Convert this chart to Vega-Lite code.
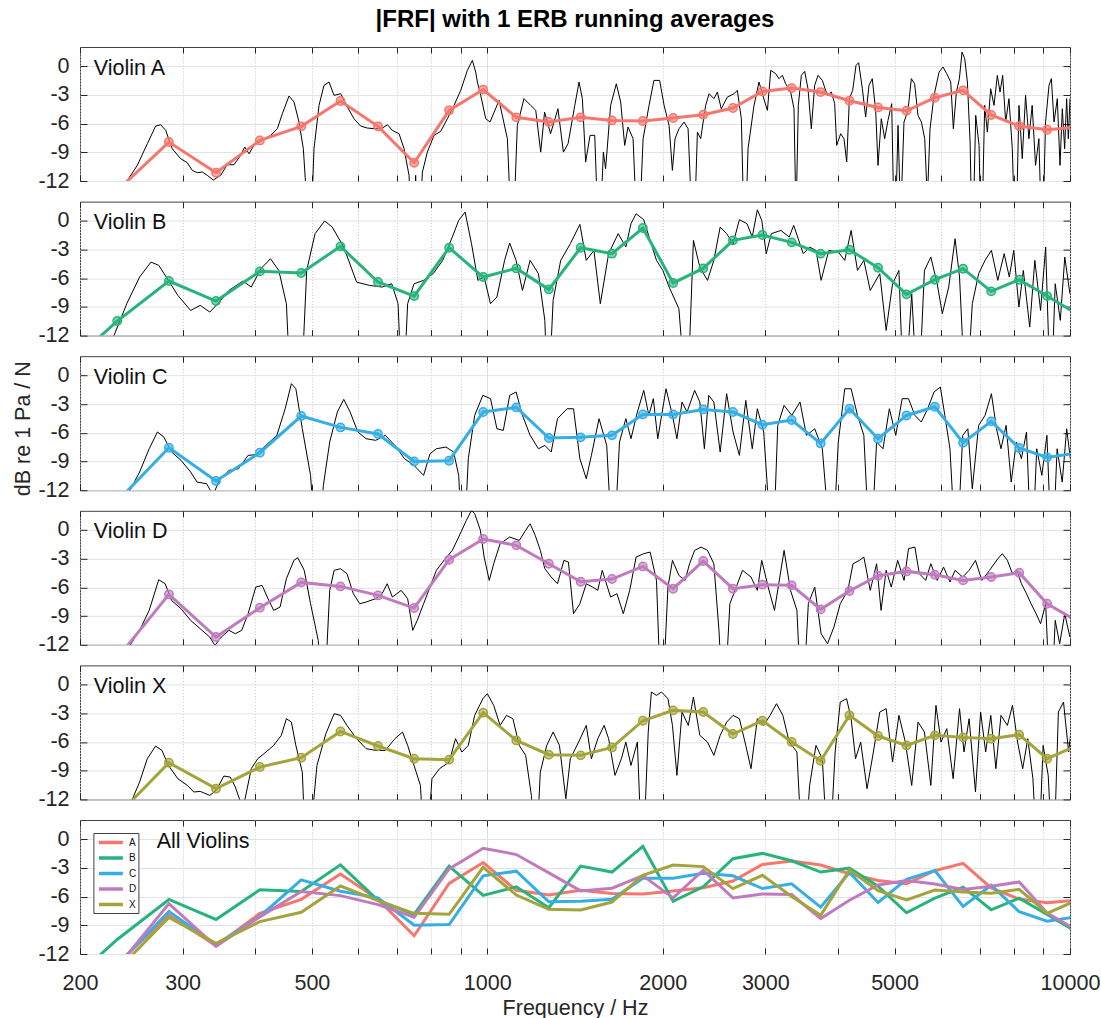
{
  "$schema": "https://vega.github.io/schema/vega-lite/v6.json",
  "background": "white",
  "padding": {"left": 11, "top": 8, "right": 5, "bottom": 5},
  "title": {"text": "|FRF| with 1 ERB running averages", "fontSize": 24, "fontWeight": "bold", "font": "Liberation Sans", "color": "#000000", "anchor": "middle", "frame": "group", "offset": 14},
  "config": {
    "font": "Liberation Sans",
    "view": {"stroke": "#404040", "strokeWidth": 1},
    "axis": {"labelFont": "Liberation Sans", "labelFontSize": 21.5, "labelColor": "#262626", "titleFont": "Liberation Sans", "titleFontSize": 21.5, "titleFontWeight": "normal", "titleColor": "#262626", "domain": false, "tickColor": "#262626", "tickWidth": 1, "labelOverlap": false, "labelFlush": false, "labelBound": false}
  },
  "datasets": {
    "erb": [
      {"v":"A","f":184.7,"d":-15},{"v":"A","f":231.7,"d":-13.0},{"v":"A","f":284.2,"d":-7.93},{"v":"A","f":342.3,"d":-11.13},{"v":"A","f":407.1,"d":-7.76},{"v":"A","f":479.4,"d":-6.29},{"v":"A","f":559.8,"d":-3.64},{"v":"A","f":649.3,"d":-6.29},{"v":"A","f":749.0,"d":-10.09},{"v":"A","f":860.0,"d":-4.62},{"v":"A","f":983.8,"d":-2.45},{"v":"A","f":1121.6,"d":-5.35},{"v":"A","f":1275.3,"d":-5.84},{"v":"A","f":1446.3,"d":-5.35},{"v":"A","f":1636.8,"d":-5.67},{"v":"A","f":1849.1,"d":-5.73},{"v":"A","f":2084.2,"d":-5.42},{"v":"A","f":2347,"d":-5.07},{"v":"A","f":2639.6,"d":-4.37},{"v":"A","f":2965.9,"d":-2.64},{"v":"A","f":3328.8,"d":-2.29},{"v":"A","f":3733,"d":-2.71},{"v":"A","f":4183,"d":-3.61},{"v":"A","f":4684,"d":-4.31},{"v":"A","f":5241.6,"d":-4.66},{"v":"A","f":5862.5,"d":-3.3},{"v":"A","f":6554,"d":-2.53},{"v":"A","f":7324,"d":-5.1},{"v":"A","f":8181.5,"d":-6.26},{"v":"A","f":9136,"d":-6.64},{"v":"A","f":10205,"d":-6.38},
      {"v":"B","f":184.7,"d":-15.9},{"v":"B","f":231.7,"d":-10.48},{"v":"B","f":284.2,"d":-6.3},{"v":"B","f":342.3,"d":-8.39},{"v":"B","f":407.1,"d":-5.29},{"v":"B","f":479.4,"d":-5.46},{"v":"B","f":559.8,"d":-2.68},{"v":"B","f":649.3,"d":-6.4},{"v":"B","f":749.0,"d":-7.87},{"v":"B","f":860.0,"d":-2.82},{"v":"B","f":983.8,"d":-5.88},{"v":"B","f":1121.6,"d":-4.98},{"v":"B","f":1275.3,"d":-7.17},{"v":"B","f":1446.3,"d":-2.82},{"v":"B","f":1636.8,"d":-3.44},{"v":"B","f":1849.1,"d":-0.76},{"v":"B","f":2084.2,"d":-6.5},{"v":"B","f":2347,"d":-4.98},{"v":"B","f":2639.6,"d":-2.05},{"v":"B","f":2965.9,"d":-1.49},{"v":"B","f":3328.8,"d":-2.26},{"v":"B","f":3733,"d":-3.44},{"v":"B","f":4183,"d":-3.03},{"v":"B","f":4684,"d":-4.91},{"v":"B","f":5241.6,"d":-7.69},{"v":"B","f":5862.5,"d":-6.16},{"v":"B","f":6554,"d":-5.01},{"v":"B","f":7324,"d":-7.38},{"v":"B","f":8181.5,"d":-6.16},{"v":"B","f":9136,"d":-7.87},{"v":"B","f":10205,"d":-9.61},
      {"v":"C","f":184.7,"d":-15},{"v":"C","f":231.7,"d":-13.17},{"v":"C","f":284.2,"d":-7.56},{"v":"C","f":342.3,"d":-11.04},{"v":"C","f":407.1,"d":-8.08},{"v":"C","f":479.4,"d":-4.25},{"v":"C","f":559.8,"d":-5.44},{"v":"C","f":649.3,"d":-6.13},{"v":"C","f":749.0,"d":-8.99},{"v":"C","f":860.0,"d":-8.92},{"v":"C","f":983.8,"d":-3.83},{"v":"C","f":1121.6,"d":-3.35},{"v":"C","f":1275.3,"d":-6.55},{"v":"C","f":1446.3,"d":-6.48},{"v":"C","f":1636.8,"d":-6.27},{"v":"C","f":1849.1,"d":-4.08},{"v":"C","f":2084.2,"d":-4.08},{"v":"C","f":2347,"d":-3.56},{"v":"C","f":2639.6,"d":-3.83},{"v":"C","f":2965.9,"d":-5.16},{"v":"C","f":3328.8,"d":-4.67},{"v":"C","f":3733,"d":-7.11},{"v":"C","f":4183,"d":-3.49},{"v":"C","f":4684,"d":-6.62},{"v":"C","f":5241.6,"d":-4.19},{"v":"C","f":5862.5,"d":-3.28},{"v":"C","f":6554,"d":-7.04},{"v":"C","f":7324,"d":-4.81},{"v":"C","f":8181.5,"d":-7.59},{"v":"C","f":9136,"d":-8.57},{"v":"C","f":10205,"d":-8.14},
      {"v":"D","f":184.7,"d":-15},{"v":"D","f":231.7,"d":-13.39},{"v":"D","f":284.2,"d":-6.73},{"v":"D","f":342.3,"d":-11.19},{"v":"D","f":407.1,"d":-8.12},{"v":"D","f":479.4,"d":-5.48},{"v":"D","f":559.8,"d":-5.9},{"v":"D","f":649.3,"d":-6.84},{"v":"D","f":749.0,"d":-8.16},{"v":"D","f":860.0,"d":-3.11},{"v":"D","f":983.8,"d":-0.95},{"v":"D","f":1121.6,"d":-1.61},{"v":"D","f":1275.3,"d":-3.53},{"v":"D","f":1446.3,"d":-5.41},{"v":"D","f":1636.8,"d":-5.13},{"v":"D","f":1849.1,"d":-3.81},{"v":"D","f":2084.2,"d":-6.14},{"v":"D","f":2347,"d":-3.25},{"v":"D","f":2639.6,"d":-6.14},{"v":"D","f":2965.9,"d":-5.72},{"v":"D","f":3328.8,"d":-5.79},{"v":"D","f":3733,"d":-8.3},{"v":"D","f":4183,"d":-6.38},{"v":"D","f":4684,"d":-4.78},{"v":"D","f":5241.6,"d":-4.33},{"v":"D","f":5862.5,"d":-4.68},{"v":"D","f":6554,"d":-5.27},{"v":"D","f":7324,"d":-4.92},{"v":"D","f":8181.5,"d":-4.47},{"v":"D","f":9136,"d":-7.71},{"v":"D","f":10205,"d":-9.41},
      {"v":"X","f":184.7,"d":-15},{"v":"X","f":231.7,"d":-13.7},{"v":"X","f":284.2,"d":-8.17},{"v":"X","f":342.3,"d":-10.88},{"v":"X","f":407.1,"d":-8.62},{"v":"X","f":479.4,"d":-7.64},{"v":"X","f":559.8,"d":-4.9},{"v":"X","f":649.3,"d":-6.42},{"v":"X","f":749.0,"d":-7.75},{"v":"X","f":860.0,"d":-7.85},{"v":"X","f":983.8,"d":-2.94},{"v":"X","f":1121.6,"d":-5.84},{"v":"X","f":1275.3,"d":-7.33},{"v":"X","f":1446.3,"d":-7.4},{"v":"X","f":1636.8,"d":-6.57},{"v":"X","f":1849.1,"d":-3.78},{"v":"X","f":2084.2,"d":-2.7},{"v":"X","f":2347,"d":-2.87},{"v":"X","f":2639.6,"d":-5.17},{"v":"X","f":2965.9,"d":-3.78},{"v":"X","f":3328.8,"d":-6.0},{"v":"X","f":3733,"d":-7.96},{"v":"X","f":4183,"d":-3.22},{"v":"X","f":4684,"d":-5.38},{"v":"X","f":5241.6,"d":-6.36},{"v":"X","f":5862.5,"d":-5.31},{"v":"X","f":6554,"d":-5.52},{"v":"X","f":7324,"d":-5.66},{"v":"X","f":8181.5,"d":-5.24},{"v":"X","f":9136,"d":-7.75},{"v":"X","f":10205,"d":-6.46}
    ],
    "frf": [
      {"v":"A","f":228.8,"d":-14},{"v":"A","f":241.2,"d":-11.94},{"v":"A","f":250.8,"d":-10.37},{"v":"A","f":261.0,"d":-8.1},{"v":"A","f":269.7,"d":-6.26},{"v":"A","f":275.1,"d":-6.12},{"v":"A","f":280.6,"d":-6.71},{"v":"A","f":288.0,"d":-8.63},{"v":"A","f":297.7,"d":-9.67},{"v":"A","f":305.6,"d":-10.09},{"v":"A","f":311.7,"d":-10.89},{"v":"A","f":317.9,"d":-11.13},{"v":"A","f":324.3,"d":-11.06},{"v":"A","f":330.7,"d":-11.41},{"v":"A","f":338.7,"d":-11.9},{"v":"A","f":348.6,"d":-11.41},{"v":"A","f":357.9,"d":-10.3},{"v":"A","f":367.5,"d":-10.3},{"v":"A","f":377.3,"d":-9.32},{"v":"A","f":383.4,"d":-8.45},{"v":"A","f":390.0,"d":-9.15},{"v":"A","f":397.8,"d":-8.28},{"v":"A","f":411.1,"d":-7.76},{"v":"A","f":424.9,"d":-7.23},{"v":"A","f":436.2,"d":-6.54},{"v":"A","f":444.9,"d":-4.97},{"v":"A","f":456.8,"d":-3.12},{"v":"A","f":465.9,"d":-3.75},{"v":"A","f":475.2,"d":-5.84},{"v":"A","f":483.4,"d":-8.63},{"v":"A","f":489.8,"d":-14},{"v":"A","f":496.3,"d":-20},{"v":"A","f":504.2,"d":-8.63},{"v":"A","f":514.3,"d":-4.1},{"v":"A","f":524.5,"d":-2.01},{"v":"A","f":535.0,"d":-1.66},{"v":"A","f":545.7,"d":-3.05},{"v":"A","f":560.2,"d":-2.88},{"v":"A","f":575.2,"d":-4.27},{"v":"A","f":590.5,"d":-5.49},{"v":"A","f":606.3,"d":-6.26},{"v":"A","f":622.5,"d":-6.47},{"v":"A","f":643.4,"d":-6.54},{"v":"A","f":660.7,"d":-6.47},{"v":"A","f":673.8,"d":-6.12},{"v":"A","f":687.2,"d":-6.71},{"v":"A","f":705.6,"d":-7.06},{"v":"A","f":719.7,"d":-8.63},{"v":"A","f":734.0,"d":-11.41},{"v":"A","f":743.7,"d":-20},{"v":"A","f":753.5,"d":-11.41},{"v":"A","f":760.4,"d":-20},{"v":"A","f":773.8,"d":-11.07},{"v":"A","f":789.1,"d":-8.98},{"v":"A","f":810.2,"d":-7.23},{"v":"A","f":831.8,"d":-6.82},{"v":"A","f":854.0,"d":-5.49},{"v":"A","f":876.9,"d":-4.1},{"v":"A","f":900.3,"d":-2.53},{"v":"A","f":924.3,"d":-0.44},{"v":"A","f":942.7,"d":0.6},{"v":"A","f":955.2,"d":-0.62},{"v":"A","f":961.6,"d":-1.66},{"v":"A","f":974.3,"d":-3.05},{"v":"A","f":993.8,"d":-5.49},{"v":"A","f":1010.9,"d":-5.84},{"v":"A","f":1047.5,"d":-3.58},{"v":"A","f":1082.6,"d":-7.58},{"v":"A","f":1104.2,"d":-20},{"v":"A","f":1126,"d":-6.19},{"v":"A","f":1156,"d":-3.4},{"v":"A","f":1187,"d":-4.1},{"v":"A","f":1211,"d":-4.62},{"v":"A","f":1235,"d":-8.98},{"v":"A","f":1254,"d":-4.8},{"v":"A","f":1284,"d":-7.06},{"v":"A","f":1322,"d":-4.45},{"v":"A","f":1351,"d":-8.98},{"v":"A","f":1376,"d":-8.1},{"v":"A","f":1413,"d":-4.1},{"v":"A","f":1437,"d":-1.66},{"v":"A","f":1456,"d":-3.4},{"v":"A","f":1475,"d":-10.02},{"v":"A","f":1501,"d":-7.23},{"v":"A","f":1529,"d":-7.23},{"v":"A","f":1555,"d":-20},{"v":"A","f":1582,"d":-8.98},{"v":"A","f":1596,"d":-10.72},{"v":"A","f":1628,"d":-4.1},{"v":"A","f":1665,"d":-1.84},{"v":"A","f":1694,"d":-3.75},{"v":"A","f":1721,"d":-8.28},{"v":"A","f":1744,"d":-6.36},{"v":"A","f":1779,"d":-7.58},{"v":"A","f":1814,"d":-20},{"v":"A","f":1851,"d":-7.58},{"v":"A","f":1895,"d":-4.1},{"v":"A","f":1932,"d":-1.49},{"v":"A","f":1976,"d":-1.49},{"v":"A","f":2011,"d":-4.1},{"v":"A","f":2051,"d":-6.19},{"v":"A","f":2078,"d":-10.89},{"v":"A","f":2100,"d":-7.58},{"v":"A","f":2133,"d":-6.54},{"v":"A","f":2176,"d":-5.84},{"v":"A","f":2211,"d":-6.54},{"v":"A","f":2258,"d":-20},{"v":"A","f":2294,"d":-6.89},{"v":"A","f":2324,"d":-7.58},{"v":"A","f":2370,"d":-4.1},{"v":"A","f":2402,"d":-2.88},{"v":"A","f":2449,"d":-3.4},{"v":"A","f":2482,"d":-2.71},{"v":"A","f":2521,"d":-4.45},{"v":"A","f":2582,"d":-3.23},{"v":"A","f":2651,"d":-2.88},{"v":"A","f":2686,"d":-2.53},{"v":"A","f":2729,"d":-5.49},{"v":"A","f":2765,"d":-20},{"v":"A","f":2802,"d":-8.63},{"v":"A","f":2869,"d":-4.1},{"v":"A","f":2926,"d":-1.66},{"v":"A","f":2994,"d":-3.75},{"v":"A","f":3025,"d":-4.62},{"v":"A","f":3065,"d":-0.44},{"v":"A","f":3126,"d":-0.79},{"v":"A","f":3167,"d":-1.31},{"v":"A","f":3209,"d":-0.96},{"v":"A","f":3251,"d":-1.84},{"v":"A","f":3316,"d":-2.71},{"v":"A","f":3360,"d":-4.45},{"v":"A","f":3387,"d":-16},{"v":"A","f":3418,"d":-4.1},{"v":"A","f":3459,"d":-0.96},{"v":"A","f":3505,"d":-0.55},{"v":"A","f":3551,"d":-2.36},{"v":"A","f":3598,"d":-6.54},{"v":"A","f":3646,"d":-2.01},{"v":"A","f":3695,"d":-0.96},{"v":"A","f":3758,"d":-1.49},{"v":"A","f":3833,"d":-3.05},{"v":"A","f":3895,"d":-2.71},{"v":"A","f":3946,"d":-3.92},{"v":"A","f":3977,"d":-8.28},{"v":"A","f":4041,"d":-7.06},{"v":"A","f":4094,"d":-7.58},{"v":"A","f":4138,"d":-10.02},{"v":"A","f":4182,"d":-3.4},{"v":"A","f":4237,"d":-2.53},{"v":"A","f":4293,"d":0.08},{"v":"A","f":4338,"d":0.36},{"v":"A","f":4402,"d":-2.36},{"v":"A","f":4460,"d":-5.32},{"v":"A","f":4519,"d":-2.01},{"v":"A","f":4578,"d":-1.31},{"v":"A","f":4640,"d":-4.62},{"v":"A","f":4683,"d":-10.37},{"v":"A","f":4744,"d":-5.49},{"v":"A","f":4808,"d":-7.58},{"v":"A","f":4871,"d":-5.67},{"v":"A","f":4943,"d":-3.92},{"v":"A","f":5002,"d":-20},{"v":"A","f":5068,"d":-6.19},{"v":"A","f":5121,"d":-16},{"v":"A","f":5189,"d":-5.84},{"v":"A","f":5272,"d":-4.62},{"v":"A","f":5342,"d":-1.31},{"v":"A","f":5412,"d":-1.84},{"v":"A","f":5484,"d":-5.14},{"v":"A","f":5559,"d":-5.84},{"v":"A","f":5632,"d":-7.58},{"v":"A","f":5691,"d":-14},{"v":"A","f":5752,"d":-6.54},{"v":"A","f":5844,"d":-3.05},{"v":"A","f":5961,"d":-0.62},{"v":"A","f":6055,"d":-0.09},{"v":"A","f":6144,"d":-0.79},{"v":"A","f":6242,"d":-1.66},{"v":"A","f":6307,"d":-6.54},{"v":"A","f":6383,"d":-2.71},{"v":"A","f":6459,"d":-1.31},{"v":"A","f":6527,"d":1.47},{"v":"A","f":6597,"d":0.78},{"v":"A","f":6667,"d":-1.66},{"v":"A","f":6738,"d":-7.93},{"v":"A","f":6800,"d":-20},{"v":"A","f":6890,"d":-5.14},{"v":"A","f":6981,"d":-8.28},{"v":"A","f":7045,"d":-20},{"v":"A","f":7138,"d":-4.1},{"v":"A","f":7214,"d":-6.89},{"v":"A","f":7309,"d":-2.36},{"v":"A","f":7406,"d":-4.1},{"v":"A","f":7504,"d":-0.96},{"v":"A","f":7584,"d":-2.71},{"v":"A","f":7664,"d":-0.96},{"v":"A","f":7755,"d":-5.84},{"v":"A","f":7857,"d":-3.4},{"v":"A","f":7961,"d":-8.63},{"v":"A","f":8066,"d":-20},{"v":"A","f":8174,"d":-4.1},{"v":"A","f":8281,"d":-9.67},{"v":"A","f":8390,"d":-3.05},{"v":"A","f":8501,"d":-7.58},{"v":"A","f":8612,"d":-4.1},{"v":"A","f":8727,"d":-10.37},{"v":"A","f":8843,"d":-7.58},{"v":"A","f":8960,"d":-20},{"v":"A","f":9079,"d":-5.84},{"v":"A","f":9204,"d":-2.01},{"v":"A","f":9290,"d":-1.31},{"v":"A","f":9389,"d":-5.84},{"v":"A","f":9511,"d":-3.4},{"v":"A","f":9612,"d":-10.37},{"v":"A","f":9701,"d":-4.45},{"v":"A","f":9791,"d":-8.63},{"v":"A","f":9868,"d":-3.4},{"v":"A","f":9935,"d":-7.58},{"v":"A","f":10000,"d":-3.4},
      {"v":"B","f":217.5,"d":-14.6},{"v":"B","f":228.8,"d":-11.98},{"v":"B","f":240.6,"d":-8.67},{"v":"B","f":253.1,"d":-5.88},{"v":"B","f":264.8,"d":-4.32},{"v":"B","f":273.0,"d":-4.66},{"v":"B","f":283.6,"d":-6.23},{"v":"B","f":294.4,"d":-7.8},{"v":"B","f":309.7,"d":-9.37},{"v":"B","f":321.6,"d":-8.84},{"v":"B","f":334.0,"d":-9.54},{"v":"B","f":346.9,"d":-8.5},{"v":"B","f":360.3,"d":-7.28},{"v":"B","f":380.8,"d":-6.3},{"v":"B","f":393.5,"d":-6.93},{"v":"B","f":408.8,"d":-5.01},{"v":"B","f":424.5,"d":-3.97},{"v":"B","f":438.7,"d":-5.19},{"v":"B","f":452.1,"d":-8.67},{"v":"B","f":461.1,"d":-20},{"v":"B","f":477.6,"d":-20},{"v":"B","f":489.9,"d":-5.19},{"v":"B","f":506.3,"d":-1.35},{"v":"B","f":525.8,"d":-0.03},{"v":"B","f":541.9,"d":-0.66},{"v":"B","f":567.1,"d":-2.75},{"v":"B","f":596.6,"d":-6.41},{"v":"B","f":627.4,"d":-6.75},{"v":"B","f":659.9,"d":-6.93},{"v":"B","f":685.4,"d":-6.58},{"v":"B","f":702.9,"d":-8.67},{"v":"B","f":715.4,"d":-20},{"v":"B","f":730.0,"d":-8.67},{"v":"B","f":748.6,"d":-6.58},{"v":"B","f":777.5,"d":-6.23},{"v":"B","f":807.5,"d":-5.53},{"v":"B","f":838.6,"d":-4.14},{"v":"B","f":871.0,"d":-1.7},{"v":"B","f":893.2,"d":0.04},{"v":"B","f":916.0,"d":0.91},{"v":"B","f":939.5,"d":-2.4},{"v":"B","f":963.5,"d":-6.23},{"v":"B","f":987.6,"d":-5.88},{"v":"B","f":1012.8,"d":-8.67},{"v":"B","f":1038.8,"d":-7.97},{"v":"B","f":1070.7,"d":-4.14},{"v":"B","f":1092.5,"d":-2.33},{"v":"B","f":1120.4,"d":-4.14},{"v":"B","f":1149.1,"d":-7.28},{"v":"B","f":1184.4,"d":-4.14},{"v":"B","f":1223.9,"d":-5.53},{"v":"B","f":1255.3,"d":-10.41},{"v":"B","f":1271.2,"d":-20},{"v":"B","f":1297.1,"d":-8.32},{"v":"B","f":1336.6,"d":-4.14},{"v":"B","f":1388.3,"d":-2.4},{"v":"B","f":1441.8,"d":-0.38},{"v":"B","f":1478.6,"d":-4.14},{"v":"B","f":1524.0,"d":-3.1},{"v":"B","f":1563.0,"d":-8.67},{"v":"B","f":1615.2,"d":-3.44},{"v":"B","f":1677.4,"d":-1.35},{"v":"B","f":1729.0,"d":-2.75},{"v":"B","f":1764.3,"d":-0.31},{"v":"B","f":1800.5,"d":0.73},{"v":"B","f":1855.6,"d":0.11},{"v":"B","f":1903,"d":-2.05},{"v":"B","f":1951.5,"d":-4.14},{"v":"B","f":2001,"d":-5.19},{"v":"B","f":2052,"d":-6.93},{"v":"B","f":2132,"d":-9.19},{"v":"B","f":2202,"d":-20},{"v":"B","f":2258,"d":-2.05},{"v":"B","f":2316,"d":-4.84},{"v":"B","f":2387,"d":-6.23},{"v":"B","f":2448,"d":-4.14},{"v":"B","f":2510,"d":-0.66},{"v":"B","f":2575,"d":-1.35},{"v":"B","f":2641,"d":-2.4},{"v":"B","f":2708,"d":0.11},{"v":"B","f":2791,"d":-0.31},{"v":"B","f":2849,"d":-1.7},{"v":"B","f":2907,"d":1.15},{"v":"B","f":2958,"d":0.04},{"v":"B","f":3011,"d":-3.44},{"v":"B","f":3072,"d":-1.35},{"v":"B","f":3191,"d":-1.01},{"v":"B","f":3297,"d":-1.7},{"v":"B","f":3356,"d":-0.48},{"v":"B","f":3485,"d":-3.44},{"v":"B","f":3574,"d":-2.75},{"v":"B","f":3665,"d":-3.1},{"v":"B","f":3740,"d":-6.23},{"v":"B","f":3855,"d":-3.1},{"v":"B","f":4003,"d":-3.27},{"v":"B","f":4106,"d":-4.14},{"v":"B","f":4211,"d":-1.01},{"v":"B","f":4318,"d":-5.19},{"v":"B","f":4428,"d":-4.14},{"v":"B","f":4541,"d":-7.28},{"v":"B","f":4716,"d":-5.53},{"v":"B","f":4836,"d":-11.46},{"v":"B","f":4960,"d":-6.58},{"v":"B","f":5086,"d":-5.19},{"v":"B","f":5191,"d":-20},{"v":"B","f":5350,"d":-7.62},{"v":"B","f":5486,"d":-20},{"v":"B","f":5626,"d":-5.19},{"v":"B","f":5770,"d":-3.79},{"v":"B","f":5917,"d":-6.58},{"v":"B","f":6038,"d":-9.71},{"v":"B","f":6192,"d":-6.93},{"v":"B","f":6350,"d":-1.88},{"v":"B","f":6463,"d":-5.88},{"v":"B","f":6628,"d":-20},{"v":"B","f":6797,"d":-8.67},{"v":"B","f":6970,"d":-5.53},{"v":"B","f":7149,"d":-4.14},{"v":"B","f":7331,"d":-3.1},{"v":"B","f":7518,"d":-6.23},{"v":"B","f":7710,"d":-3.44},{"v":"B","f":7867,"d":-5.88},{"v":"B","f":8007,"d":-3.1},{"v":"B","f":8171,"d":-9.02},{"v":"B","f":8316,"d":-5.19},{"v":"B","f":8529,"d":-11.11},{"v":"B","f":8702,"d":-4.14},{"v":"B","f":8902,"d":-9.37},{"v":"B","f":9083,"d":-2.75},{"v":"B","f":9268,"d":-20},{"v":"B","f":9432,"d":-6.58},{"v":"B","f":9624,"d":-10.41},{"v":"B","f":9796,"d":-3.79},{"v":"B","f":9996,"d":-7.62},
      {"v":"C","f":234.6,"d":-13.9},{"v":"C","f":253.1,"d":-10.1},{"v":"C","f":262.9,"d":-7.67},{"v":"C","f":271.6,"d":-5.92},{"v":"C","f":278.6,"d":-6.45},{"v":"C","f":287.1,"d":-8.01},{"v":"C","f":298.1,"d":-8.88},{"v":"C","f":309.7,"d":-10.1},{"v":"C","f":317.6,"d":-11.15},{"v":"C","f":329.8,"d":-11.32},{"v":"C","f":338.3,"d":-12.5},{"v":"C","f":346.9,"d":-10.97},{"v":"C","f":360.3,"d":-9.93},{"v":"C","f":374.2,"d":-9.76},{"v":"C","f":388.6,"d":-8.36},{"v":"C","f":400.6,"d":-8.29},{"v":"C","f":413.9,"d":-7.49},{"v":"C","f":435.4,"d":-6.27},{"v":"C","f":449.9,"d":-3.49},{"v":"C","f":461.1,"d":-0.87},{"v":"C","f":469.3,"d":-1.4},{"v":"C","f":481.4,"d":-5.58},{"v":"C","f":497.4,"d":-10.45},{"v":"C","f":510.1,"d":-20},{"v":"C","f":523.2,"d":-11.5},{"v":"C","f":536.5,"d":-6.97},{"v":"C","f":552.9,"d":-3.83},{"v":"C","f":567.1,"d":-2.51},{"v":"C","f":581.6,"d":-3.83},{"v":"C","f":599.6,"d":-5.92},{"v":"C","f":619.5,"d":-6.62},{"v":"C","f":643.4,"d":-6.79},{"v":"C","f":668.3,"d":-6.27},{"v":"C","f":694.1,"d":-7.32},{"v":"C","f":720.8,"d":-8.71},{"v":"C","f":748.6,"d":-9.41},{"v":"C","f":777.5,"d":-10.45},{"v":"C","f":797.4,"d":-8.19},{"v":"C","f":817.8,"d":-7.67},{"v":"C","f":849.3,"d":-7.49},{"v":"C","f":875.4,"d":-8.01},{"v":"C","f":893.2,"d":-10.45},{"v":"C","f":909.2,"d":-20},{"v":"C","f":927.7,"d":-8.71},{"v":"C","f":951.4,"d":-4.18},{"v":"C","f":982.7,"d":-2.09},{"v":"C","f":1012.8,"d":-2.44},{"v":"C","f":1038.8,"d":-5.58},{"v":"C","f":1065.3,"d":-5.75},{"v":"C","f":1092.5,"d":-2.09},{"v":"C","f":1120.4,"d":-1.74},{"v":"C","f":1149.1,"d":-4.18},{"v":"C","f":1184.4,"d":-6.27},{"v":"C","f":1223.9,"d":-7.67},{"v":"C","f":1255.3,"d":-7.32},{"v":"C","f":1287.3,"d":-8.01},{"v":"C","f":1319.8,"d":-4.53},{"v":"C","f":1370.7,"d":-3.49},{"v":"C","f":1405.9,"d":-3.49},{"v":"C","f":1441.8,"d":-8.71},{"v":"C","f":1478.6,"d":-10.8},{"v":"C","f":1508.8,"d":-8.36},{"v":"C","f":1555.2,"d":-4.53},{"v":"C","f":1603,"d":-7.32},{"v":"C","f":1643.9,"d":-20},{"v":"C","f":1686,"d":-6.97},{"v":"C","f":1729,"d":-4.53},{"v":"C","f":1764.3,"d":-6.62},{"v":"C","f":1809.5,"d":-3.83},{"v":"C","f":1855.6,"d":-1.57},{"v":"C","f":1893.5,"d":-4.18},{"v":"C","f":1927.2,"d":-2.44},{"v":"C","f":1961.4,"d":-6.62},{"v":"C","f":2026.4,"d":-1.4},{"v":"C","f":2078.6,"d":-4.18},{"v":"C","f":2115.5,"d":-6.62},{"v":"C","f":2158.7,"d":-2.79},{"v":"C","f":2202,"d":-3.83},{"v":"C","f":2269,"d":-1.57},{"v":"C","f":2316,"d":-2.79},{"v":"C","f":2358,"d":-7.67},{"v":"C","f":2399,"d":-2.09},{"v":"C","f":2448,"d":-2.79},{"v":"C","f":2510,"d":-8.01},{"v":"C","f":2575,"d":-1.92},{"v":"C","f":2641,"d":-5.92},{"v":"C","f":2708,"d":-8.36},{"v":"C","f":2777,"d":-2.62},{"v":"C","f":2849,"d":-7.67},{"v":"C","f":2907,"d":-3.49},{"v":"C","f":2981,"d":-5.92},{"v":"C","f":3088,"d":-20},{"v":"C","f":3151,"d":-5.23},{"v":"C","f":3231,"d":-3.14},{"v":"C","f":3331,"d":-4.18},{"v":"C","f":3441,"d":-2.79},{"v":"C","f":3529,"d":-6.27},{"v":"C","f":3647,"d":-5.58},{"v":"C","f":3758,"d":-7.67},{"v":"C","f":3904,"d":-20},{"v":"C","f":4003,"d":-6.97},{"v":"C","f":4106,"d":-1.4},{"v":"C","f":4211,"d":-1.4},{"v":"C","f":4318,"d":-4.18},{"v":"C","f":4428,"d":-6.27},{"v":"C","f":4541,"d":-20},{"v":"C","f":4657,"d":-6.97},{"v":"C","f":4776,"d":-7.67},{"v":"C","f":4898,"d":-3.49},{"v":"C","f":5023,"d":-6.27},{"v":"C","f":5152,"d":-2.44},{"v":"C","f":5283,"d":-2.44},{"v":"C","f":5417,"d":-4.18},{"v":"C","f":5556,"d":-4.88},{"v":"C","f":5698,"d":-3.49},{"v":"C","f":5843,"d":-1.74},{"v":"C","f":5992,"d":-1.22},{"v":"C","f":6098,"d":-4.18},{"v":"C","f":6223,"d":-7.67},{"v":"C","f":6382,"d":-20},{"v":"C","f":6545,"d":-6.27},{"v":"C","f":6679,"d":-5.58},{"v":"C","f":6797,"d":-11.85},{"v":"C","f":6970,"d":-5.23},{"v":"C","f":7149,"d":-4.18},{"v":"C","f":7331,"d":-1.92},{"v":"C","f":7480,"d":-5.58},{"v":"C","f":7613,"d":-7.67},{"v":"C","f":7769,"d":-5.23},{"v":"C","f":7927,"d":-11.15},{"v":"C","f":8089,"d":-6.97},{"v":"C","f":8253,"d":-8.71},{"v":"C","f":8421,"d":-5.92},{"v":"C","f":8594,"d":-20},{"v":"C","f":8768,"d":-7.67},{"v":"C","f":8947,"d":-10.45},{"v":"C","f":9128,"d":-6.27},{"v":"C","f":9315,"d":-20},{"v":"C","f":9504,"d":-7.67},{"v":"C","f":9697,"d":-11.15},{"v":"C","f":9869,"d":-5.58},{"v":"C","f":10046,"d":-9.41},
      {"v":"D","f":234.6,"d":-13.98},{"v":"D","f":243.7,"d":-12.06},{"v":"D","f":253.1,"d":-10.49},{"v":"D","f":262.9,"d":-8.4},{"v":"D","f":273.0,"d":-5.2},{"v":"D","f":280.0,"d":-5.62},{"v":"D","f":287.1,"d":-7.36},{"v":"D","f":298.1,"d":-8.23},{"v":"D","f":309.7,"d":-9.45},{"v":"D","f":321.6,"d":-10.32},{"v":"D","f":334.0,"d":-11.19},{"v":"D","f":340.9,"d":-12.06},{"v":"D","f":349.6,"d":-11.19},{"v":"D","f":360.3,"d":-10.49},{"v":"D","f":369.5,"d":-10.84},{"v":"D","f":378.9,"d":-10.49},{"v":"D","f":388.6,"d":-8.75},{"v":"D","f":400.6,"d":-5.97},{"v":"D","f":410.8,"d":-5.79},{"v":"D","f":419.2,"d":-7.01},{"v":"D","f":429.9,"d":-8.4},{"v":"D","f":440.9,"d":-8.06},{"v":"D","f":452.1,"d":-5.1},{"v":"D","f":465.7,"d":-3.18},{"v":"D","f":472.9,"d":-2.9},{"v":"D","f":485.1,"d":-4.22},{"v":"D","f":497.4,"d":-7.71},{"v":"D","f":512.7,"d":-11.54},{"v":"D","f":523.2,"d":-20},{"v":"D","f":536.5,"d":-6.31},{"v":"D","f":546.0,"d":-4.22},{"v":"D","f":560.0,"d":-4.05},{"v":"D","f":574.3,"d":-4.57},{"v":"D","f":589.1,"d":-6.66},{"v":"D","f":604.2,"d":-7.71},{"v":"D","f":619.5,"d":-7.53},{"v":"D","f":643.4,"d":-7.18},{"v":"D","f":659.9,"d":-6.66},{"v":"D","f":673.4,"d":-5.62},{"v":"D","f":687.2,"d":-7.01},{"v":"D","f":711.8,"d":-6.31},{"v":"D","f":730.0,"d":-7.18},{"v":"D","f":744.9,"d":-10.49},{"v":"D","f":758.2,"d":-9.45},{"v":"D","f":777.5,"d":-7.71},{"v":"D","f":797.4,"d":-5.97},{"v":"D","f":817.8,"d":-4.22},{"v":"D","f":838.6,"d":-3.35},{"v":"D","f":871.0,"d":-2.13},{"v":"D","f":893.2,"d":-0.74},{"v":"D","f":920.6,"d":1.0},{"v":"D","f":939.5,"d":2.05},{"v":"D","f":951.4,"d":1.7},{"v":"D","f":973.1,"d":-0.04},{"v":"D","f":987.6,"d":-2.83},{"v":"D","f":1007.8,"d":-5.27},{"v":"D","f":1025.6,"d":-3.53},{"v":"D","f":1052.0,"d":-1.44},{"v":"D","f":1092.5,"d":-0.74},{"v":"D","f":1134.7,"d":-1.09},{"v":"D","f":1163.7,"d":-0.04},{"v":"D","f":1184.4,"d":0.65},{"v":"D","f":1208.5,"d":-0.57},{"v":"D","f":1233.1,"d":-2.13},{"v":"D","f":1255.3,"d":-4.05},{"v":"D","f":1287.3,"d":-4.92},{"v":"D","f":1319.8,"d":-5.62},{"v":"D","f":1353.6,"d":-3.18},{"v":"D","f":1377.8,"d":-3.35},{"v":"D","f":1405.9,"d":-8.75},{"v":"D","f":1441.8,"d":-7.71},{"v":"D","f":1478.6,"d":-5.62},{"v":"D","f":1516.3,"d":-5.97},{"v":"D","f":1547.5,"d":-6.31},{"v":"D","f":1574.9,"d":-4.22},{"v":"D","f":1627.6,"d":-7.01},{"v":"D","f":1669.1,"d":-6.66},{"v":"D","f":1711.8,"d":-8.75},{"v":"D","f":1755.5,"d":-6.31},{"v":"D","f":1800.5,"d":-2.83},{"v":"D","f":1855.6,"d":-2.48},{"v":"D","f":1903,"d":-2.31},{"v":"D","f":1951.5,"d":-5.27},{"v":"D","f":1991,"d":-20},{"v":"D","f":2042,"d":-5.97},{"v":"D","f":2078.6,"d":-3.18},{"v":"D","f":2132,"d":-4.75},{"v":"D","f":2185,"d":-5.27},{"v":"D","f":2224,"d":-3.53},{"v":"D","f":2269,"d":-2.13},{"v":"D","f":2328,"d":-1.79},{"v":"D","f":2387,"d":-2.13},{"v":"D","f":2448,"d":-3.53},{"v":"D","f":2498,"d":-10.49},{"v":"D","f":2543,"d":-20},{"v":"D","f":2608,"d":-7.71},{"v":"D","f":2674,"d":-5.97},{"v":"D","f":2742,"d":-4.22},{"v":"D","f":2835,"d":-4.92},{"v":"D","f":2907,"d":-6.31},{"v":"D","f":2958,"d":-3.18},{"v":"D","f":3034,"d":-5.97},{"v":"D","f":3111,"d":-8.4},{"v":"D","f":3231,"d":-2.13},{"v":"D","f":3314,"d":-6.31},{"v":"D","f":3399,"d":-8.4},{"v":"D","f":3468,"d":-20},{"v":"D","f":3556,"d":-7.71},{"v":"D","f":3647,"d":-5.97},{"v":"D","f":3740,"d":-10.84},{"v":"D","f":3836,"d":-11.89},{"v":"D","f":3934,"d":-10.15},{"v":"D","f":4034,"d":-7.71},{"v":"D","f":4157,"d":-6.31},{"v":"D","f":4243,"d":-3.53},{"v":"D","f":4351,"d":-3.18},{"v":"D","f":4428,"d":-2.83},{"v":"D","f":4541,"d":-6.31},{"v":"D","f":4657,"d":-3.53},{"v":"D","f":4740,"d":-8.4},{"v":"D","f":4836,"d":-4.22},{"v":"D","f":4935,"d":-5.97},{"v":"D","f":5061,"d":-3.18},{"v":"D","f":5191,"d":-5.27},{"v":"D","f":5283,"d":-1.96},{"v":"D","f":5417,"d":-1.79},{"v":"D","f":5513,"d":-4.57},{"v":"D","f":5654,"d":-5.27},{"v":"D","f":5770,"d":-3.53},{"v":"D","f":5917,"d":-5.27},{"v":"D","f":6068,"d":-3.88},{"v":"D","f":6223,"d":-5.44},{"v":"D","f":6350,"d":-4.22},{"v":"D","f":6545,"d":-4.92},{"v":"D","f":6712,"d":-4.22},{"v":"D","f":6883,"d":-3.18},{"v":"D","f":7059,"d":-5.27},{"v":"D","f":7276,"d":-4.22},{"v":"D","f":7518,"d":-3.01},{"v":"D","f":7652,"d":-2.48},{"v":"D","f":7808,"d":-3.18},{"v":"D","f":7967,"d":-4.57},{"v":"D","f":8109,"d":-4.22},{"v":"D","f":8253,"d":-5.62},{"v":"D","f":8421,"d":-6.66},{"v":"D","f":8573,"d":-7.71},{"v":"D","f":8747,"d":-8.75},{"v":"D","f":8902,"d":-9.8},{"v":"D","f":9083,"d":-7.71},{"v":"D","f":9268,"d":-20},{"v":"D","f":9432,"d":-9.45},{"v":"D","f":9600,"d":-11.89},{"v":"D","f":9796,"d":-8.75},{"v":"D","f":9996,"d":-11.19},
      {"v":"X","f":237.6,"d":-14.0},{"v":"X","f":245.5,"d":-12.1},{"v":"X","f":253.1,"d":-10.19},{"v":"X","f":260.9,"d":-7.75},{"v":"X","f":269.6,"d":-6.43},{"v":"X","f":276.5,"d":-6.88},{"v":"X","f":283.6,"d":-8.45},{"v":"X","f":294.4,"d":-9.84},{"v":"X","f":305.8,"d":-10.54},{"v":"X","f":313.6,"d":-11.23},{"v":"X","f":321.6,"d":-11.16},{"v":"X","f":334.0,"d":-11.58},{"v":"X","f":342.6,"d":-11.06},{"v":"X","f":353.1,"d":-9.56},{"v":"X","f":362.1,"d":-9.67},{"v":"X","f":369.5,"d":-10.71},{"v":"X","f":380.8,"d":-13},{"v":"X","f":393.5,"d":-8.79},{"v":"X","f":403.7,"d":-7.75},{"v":"X","f":417.1,"d":-7.05},{"v":"X","f":429.9,"d":-6.36},{"v":"X","f":443.1,"d":-5.31},{"v":"X","f":452.1,"d":-3.57},{"v":"X","f":461.1,"d":-3.92},{"v":"X","f":469.3,"d":-6.36},{"v":"X","f":481.4,"d":-9.14},{"v":"X","f":489.9,"d":-20},{"v":"X","f":510.1,"d":-8.45},{"v":"X","f":528.4,"d":-5.14},{"v":"X","f":546.0,"d":-3.05},{"v":"X","f":560.0,"d":-3.22},{"v":"X","f":574.3,"d":-4.27},{"v":"X","f":596.6,"d":-5.66},{"v":"X","f":619.5,"d":-6.7},{"v":"X","f":643.4,"d":-6.88},{"v":"X","f":668.3,"d":-6.88},{"v":"X","f":694.1,"d":-5.66},{"v":"X","f":715.4,"d":-4.96},{"v":"X","f":730.0,"d":-6.36},{"v":"X","f":748.6,"d":-8.45},{"v":"X","f":767.8,"d":-10.54},{"v":"X","f":783.5,"d":-20},{"v":"X","f":803.5,"d":-9.84},{"v":"X","f":828.1,"d":-8.79},{"v":"X","f":860.1,"d":-8.1},{"v":"X","f":882.0,"d":-5.66},{"v":"X","f":904.5,"d":-7.05},{"v":"X","f":927.7,"d":-6.36},{"v":"X","f":951.4,"d":-3.22},{"v":"X","f":982.7,"d":-1.48},{"v":"X","f":1000.1,"d":-0.96},{"v":"X","f":1025.8,"d":-2.18},{"v":"X","f":1052.0,"d":-4.27},{"v":"X","f":1078.8,"d":-3.22},{"v":"X","f":1106.4,"d":-3.57},{"v":"X","f":1134.7,"d":-6.36},{"v":"X","f":1163.7,"d":-7.4},{"v":"X","f":1190.2,"d":-11.58},{"v":"X","f":1208.5,"d":-20},{"v":"X","f":1233.1,"d":-9.14},{"v":"X","f":1264.9,"d":-6.36},{"v":"X","f":1297.1,"d":-4.96},{"v":"X","f":1330,"d":-6.36},{"v":"X","f":1363.9,"d":-11.93},{"v":"X","f":1388.3,"d":-7.75},{"v":"X","f":1434.6,"d":-6.01},{"v":"X","f":1478.6,"d":-4.27},{"v":"X","f":1508.8,"d":-7.75},{"v":"X","f":1547.5,"d":-5.66},{"v":"X","f":1586.9,"d":-4.27},{"v":"X","f":1615.2,"d":-5.66},{"v":"X","f":1656.5,"d":-9.49},{"v":"X","f":1698.8,"d":-7.75},{"v":"X","f":1729,"d":-6.01},{"v":"X","f":1764.3,"d":-8.45},{"v":"X","f":1809.5,"d":-6.01},{"v":"X","f":1846.4,"d":-20},{"v":"X","f":1888.8,"d":-4.96},{"v":"X","f":1912.5,"d":-0.78},{"v":"X","f":1951.5,"d":-1.13},{"v":"X","f":1991,"d":-0.78},{"v":"X","f":2042,"d":-1.48},{"v":"X","f":2078.6,"d":-4.27},{"v":"X","f":2115.5,"d":-9.49},{"v":"X","f":2158.7,"d":-2.87},{"v":"X","f":2213,"d":-4.27},{"v":"X","f":2258,"d":-1.31},{"v":"X","f":2316,"d":-5.31},{"v":"X","f":2387,"d":-6.01},{"v":"X","f":2448,"d":-7.4},{"v":"X","f":2510,"d":-5.31},{"v":"X","f":2575,"d":-3.92},{"v":"X","f":2641,"d":-3.22},{"v":"X","f":2708,"d":-3.57},{"v":"X","f":2777,"d":-6.36},{"v":"X","f":2835,"d":-8.79},{"v":"X","f":2907,"d":-3.57},{"v":"X","f":2981,"d":-4.27},{"v":"X","f":3057,"d":-3.22},{"v":"X","f":3135,"d":-2.0},{"v":"X","f":3215,"d":-3.22},{"v":"X","f":3297,"d":-6.01},{"v":"X","f":3399,"d":-7.05},{"v":"X","f":3485,"d":-20},{"v":"X","f":3574,"d":-10.54},{"v":"X","f":3665,"d":-6.36},{"v":"X","f":3758,"d":-7.75},{"v":"X","f":3855,"d":-20},{"v":"X","f":3953,"d":-7.05},{"v":"X","f":4034,"d":-1.83},{"v":"X","f":4137,"d":-1.48},{"v":"X","f":4211,"d":-3.57},{"v":"X","f":4285,"d":-7.75},{"v":"X","f":4373,"d":-6.01},{"v":"X","f":4484,"d":-10.88},{"v":"X","f":4598,"d":-7.05},{"v":"X","f":4716,"d":-2.87},{"v":"X","f":4836,"d":-2.52},{"v":"X","f":4960,"d":-8.1},{"v":"X","f":5086,"d":-3.22},{"v":"X","f":5217,"d":-6.01},{"v":"X","f":5350,"d":-10.54},{"v":"X","f":5486,"d":-3.92},{"v":"X","f":5626,"d":-4.96},{"v":"X","f":5770,"d":-10.54},{"v":"X","f":5888,"d":-2.18},{"v":"X","f":6007,"d":-6.01},{"v":"X","f":6145,"d":-4.61},{"v":"X","f":6302,"d":-9.84},{"v":"X","f":6463,"d":-2.52},{"v":"X","f":6578,"d":-7.05},{"v":"X","f":6712,"d":-3.57},{"v":"X","f":6883,"d":-11.23},{"v":"X","f":7024,"d":-2.87},{"v":"X","f":7166,"d":-7.05},{"v":"X","f":7313,"d":-3.22},{"v":"X","f":7461,"d":-8.79},{"v":"X","f":7613,"d":-3.22},{"v":"X","f":7808,"d":-4.27},{"v":"X","f":7967,"d":-2.18},{"v":"X","f":8130,"d":-6.01},{"v":"X","f":8295,"d":-8.79},{"v":"X","f":8464,"d":-5.66},{"v":"X","f":8637,"d":-9.84},{"v":"X","f":8813,"d":-20},{"v":"X","f":8992,"d":-6.36},{"v":"X","f":9175,"d":-9.49},{"v":"X","f":9361,"d":-20},{"v":"X","f":9552,"d":-2.87},{"v":"X","f":9747,"d":-1.83},{"v":"X","f":9946,"d":-7.05},{"v":"X","f":10096,"d":-3.57}
    ]
  },
  "spacing": 20.6,
  "bounds": "flush",
  "vconcat": [
    {
      "width": 990, "height": 134,
      "layer": [
        {"data": {"name": "frf"}, "transform": [{"filter": "datum.v == 'A'"}], "mark": {"type": "line", "color": "#000000", "strokeWidth": 1, "clip": true},
         "encoding": {"x": {"field": "f", "type": "quantitative", "scale": {"type": "log", "domain": [200, 10000], "nice": false}, "axis": {"orient": "bottom", "values": [200,300,400,500,600,700,800,900,1000,2000,3000,4000,5000,6000,7000,8000,9000,10000], "grid": true, "gridColor": {"condition": {"test": "datum.value == 1000", "value": "#dedede"}, "value": "#c6c6c6"}, "gridDash": {"condition": {"test": "datum.value == 1000", "value": []}, "value": [1, 2]}, "tickSize": -6, "labels": false, "title": null}},
                      "y": {"field": "d", "type": "quantitative", "scale": {"domain": [-12, 2], "nice": false}, "axis": {"orient": "left", "values": [0,-3,-6,-9,-12], "grid": true, "gridColor": "#e2e2e2", "tickSize": -7, "labelPadding": 18, "labelExpr": "datum.value == 0 ? '0' : '-' + abs(datum.value)", "title": null}}}},
        {"data": {"name": "erb"}, "transform": [{"filter": "datum.v == 'A'"}], "mark": {"type": "line", "color": "#F5766D", "strokeWidth": 3, "clip": true},
         "encoding": {"x": {"field": "f", "type": "quantitative", "axis": null}, "y": {"field": "d", "type": "quantitative", "axis": null}}},
        {"data": {"name": "erb"}, "transform": [{"filter": "datum.v == 'A'"}], "mark": {"type": "point", "shape": "circle", "filled": true, "size": 70, "color": "#F5766D", "fillOpacity": 0.6, "stroke": "#F5766D", "strokeWidth": 1.5, "opacity": 1, "clip": true},
         "encoding": {"x": {"field": "f", "type": "quantitative", "axis": null}, "y": {"field": "d", "type": "quantitative", "axis": null}}},
        {"data": {"values": [{"label": "Violin A"}]}, "mark": {"type": "text", "align": "left", "baseline": "alphabetic", "fontSize": 21.5, "font": "Liberation Sans", "color": "#111111"},
         "encoding": {"x": {"datum": 211.2, "type": "quantitative", "axis": {"orient": "top", "values": [200,300,400,500,600,700,800,900,1000,2000,3000,4000,5000,6000,7000,8000,9000,10000], "grid": false, "tickSize": -6, "labels": false, "title": null}},
                      "y": {"datum": -0.89, "type": "quantitative", "axis": {"orient": "right", "values": [0,-3,-6,-9,-12], "grid": false, "tickSize": -7, "labels": false, "title": null}},
                      "text": {"field": "label"}}}
      ],
      "resolve": {"axis": {"x": "independent", "y": "independent"}}
    },
    {
      "width": 990, "height": 134,
      "layer": [
        {"data": {"name": "frf"}, "transform": [{"filter": "datum.v == 'B'"}], "mark": {"type": "line", "color": "#000000", "strokeWidth": 1, "clip": true},
         "encoding": {"x": {"field": "f", "type": "quantitative", "scale": {"type": "log", "domain": [200, 10000], "nice": false}, "axis": {"orient": "bottom", "values": [200,300,400,500,600,700,800,900,1000,2000,3000,4000,5000,6000,7000,8000,9000,10000], "grid": true, "gridColor": {"condition": {"test": "datum.value == 1000", "value": "#dedede"}, "value": "#c6c6c6"}, "gridDash": {"condition": {"test": "datum.value == 1000", "value": []}, "value": [1, 2]}, "tickSize": -6, "labels": false, "title": null}},
                      "y": {"field": "d", "type": "quantitative", "scale": {"domain": [-12, 2], "nice": false}, "axis": {"orient": "left", "values": [0,-3,-6,-9,-12], "grid": true, "gridColor": "#e2e2e2", "tickSize": -7, "labelPadding": 18, "labelExpr": "datum.value == 0 ? '0' : '-' + abs(datum.value)", "title": null}}}},
        {"data": {"name": "erb"}, "transform": [{"filter": "datum.v == 'B'"}], "mark": {"type": "line", "color": "#27B47A", "strokeWidth": 3, "clip": true},
         "encoding": {"x": {"field": "f", "type": "quantitative", "axis": null}, "y": {"field": "d", "type": "quantitative", "axis": null}}},
        {"data": {"name": "erb"}, "transform": [{"filter": "datum.v == 'B'"}], "mark": {"type": "point", "shape": "circle", "filled": true, "size": 70, "color": "#27B47A", "fillOpacity": 0.6, "stroke": "#27B47A", "strokeWidth": 1.5, "opacity": 1, "clip": true},
         "encoding": {"x": {"field": "f", "type": "quantitative", "axis": null}, "y": {"field": "d", "type": "quantitative", "axis": null}}},
        {"data": {"values": [{"label": "Violin B"}]}, "mark": {"type": "text", "align": "left", "baseline": "alphabetic", "fontSize": 21.5, "font": "Liberation Sans", "color": "#111111"},
         "encoding": {"x": {"datum": 211.2, "type": "quantitative", "axis": {"orient": "top", "values": [200,300,400,500,600,700,800,900,1000,2000,3000,4000,5000,6000,7000,8000,9000,10000], "grid": false, "tickSize": -6, "labels": false, "title": null}},
                      "y": {"datum": -0.89, "type": "quantitative", "axis": {"orient": "right", "values": [0,-3,-6,-9,-12], "grid": false, "tickSize": -7, "labels": false, "title": null}},
                      "text": {"field": "label"}}}
      ],
      "resolve": {"axis": {"x": "independent", "y": "independent"}}
    },
    {
      "width": 990, "height": 134,
      "layer": [
        {"data": {"name": "frf"}, "transform": [{"filter": "datum.v == 'C'"}], "mark": {"type": "line", "color": "#000000", "strokeWidth": 1, "clip": true},
         "encoding": {"x": {"field": "f", "type": "quantitative", "scale": {"type": "log", "domain": [200, 10000], "nice": false}, "axis": {"orient": "bottom", "values": [200,300,400,500,600,700,800,900,1000,2000,3000,4000,5000,6000,7000,8000,9000,10000], "grid": true, "gridColor": {"condition": {"test": "datum.value == 1000", "value": "#dedede"}, "value": "#c6c6c6"}, "gridDash": {"condition": {"test": "datum.value == 1000", "value": []}, "value": [1, 2]}, "tickSize": -6, "labels": false, "title": null}},
                      "y": {"field": "d", "type": "quantitative", "scale": {"domain": [-12, 2], "nice": false}, "axis": {"orient": "left", "values": [0,-3,-6,-9,-12], "grid": true, "gridColor": "#e2e2e2", "tickSize": -7, "labelPadding": 18, "labelExpr": "datum.value == 0 ? '0' : '-' + abs(datum.value)", "title": "dB re 1 Pa / N", "titleX": -57, "titleY": 72, "titleAngle": 270, "titleAlign": "center", "titleBaseline": "middle"}}}},
        {"data": {"name": "erb"}, "transform": [{"filter": "datum.v == 'C'"}], "mark": {"type": "line", "color": "#35AEE5", "strokeWidth": 3, "clip": true},
         "encoding": {"x": {"field": "f", "type": "quantitative", "axis": null}, "y": {"field": "d", "type": "quantitative", "axis": null}}},
        {"data": {"name": "erb"}, "transform": [{"filter": "datum.v == 'C'"}], "mark": {"type": "point", "shape": "circle", "filled": true, "size": 70, "color": "#35AEE5", "fillOpacity": 0.6, "stroke": "#35AEE5", "strokeWidth": 1.5, "opacity": 1, "clip": true},
         "encoding": {"x": {"field": "f", "type": "quantitative", "axis": null}, "y": {"field": "d", "type": "quantitative", "axis": null}}},
        {"data": {"values": [{"label": "Violin C"}]}, "mark": {"type": "text", "align": "left", "baseline": "alphabetic", "fontSize": 21.5, "font": "Liberation Sans", "color": "#111111"},
         "encoding": {"x": {"datum": 211.2, "type": "quantitative", "axis": {"orient": "top", "values": [200,300,400,500,600,700,800,900,1000,2000,3000,4000,5000,6000,7000,8000,9000,10000], "grid": false, "tickSize": -6, "labels": false, "title": null}},
                      "y": {"datum": -0.89, "type": "quantitative", "axis": {"orient": "right", "values": [0,-3,-6,-9,-12], "grid": false, "tickSize": -7, "labels": false, "title": null}},
                      "text": {"field": "label"}}}
      ],
      "resolve": {"axis": {"x": "independent", "y": "independent"}}
    },
    {
      "width": 990, "height": 134,
      "layer": [
        {"data": {"name": "frf"}, "transform": [{"filter": "datum.v == 'D'"}], "mark": {"type": "line", "color": "#000000", "strokeWidth": 1, "clip": true},
         "encoding": {"x": {"field": "f", "type": "quantitative", "scale": {"type": "log", "domain": [200, 10000], "nice": false}, "axis": {"orient": "bottom", "values": [200,300,400,500,600,700,800,900,1000,2000,3000,4000,5000,6000,7000,8000,9000,10000], "grid": true, "gridColor": {"condition": {"test": "datum.value == 1000", "value": "#dedede"}, "value": "#c6c6c6"}, "gridDash": {"condition": {"test": "datum.value == 1000", "value": []}, "value": [1, 2]}, "tickSize": -6, "labels": false, "title": null}},
                      "y": {"field": "d", "type": "quantitative", "scale": {"domain": [-12, 2], "nice": false}, "axis": {"orient": "left", "values": [0,-3,-6,-9,-12], "grid": true, "gridColor": "#e2e2e2", "tickSize": -7, "labelPadding": 18, "labelExpr": "datum.value == 0 ? '0' : '-' + abs(datum.value)", "title": null}}}},
        {"data": {"name": "erb"}, "transform": [{"filter": "datum.v == 'D'"}], "mark": {"type": "line", "color": "#C07BBE", "strokeWidth": 3, "clip": true},
         "encoding": {"x": {"field": "f", "type": "quantitative", "axis": null}, "y": {"field": "d", "type": "quantitative", "axis": null}}},
        {"data": {"name": "erb"}, "transform": [{"filter": "datum.v == 'D'"}], "mark": {"type": "point", "shape": "circle", "filled": true, "size": 70, "color": "#C07BBE", "fillOpacity": 0.6, "stroke": "#C07BBE", "strokeWidth": 1.5, "opacity": 1, "clip": true},
         "encoding": {"x": {"field": "f", "type": "quantitative", "axis": null}, "y": {"field": "d", "type": "quantitative", "axis": null}}},
        {"data": {"values": [{"label": "Violin D"}]}, "mark": {"type": "text", "align": "left", "baseline": "alphabetic", "fontSize": 21.5, "font": "Liberation Sans", "color": "#111111"},
         "encoding": {"x": {"datum": 211.2, "type": "quantitative", "axis": {"orient": "top", "values": [200,300,400,500,600,700,800,900,1000,2000,3000,4000,5000,6000,7000,8000,9000,10000], "grid": false, "tickSize": -6, "labels": false, "title": null}},
                      "y": {"datum": -0.89, "type": "quantitative", "axis": {"orient": "right", "values": [0,-3,-6,-9,-12], "grid": false, "tickSize": -7, "labels": false, "title": null}},
                      "text": {"field": "label"}}}
      ],
      "resolve": {"axis": {"x": "independent", "y": "independent"}}
    },
    {
      "width": 990, "height": 134,
      "layer": [
        {"data": {"name": "frf"}, "transform": [{"filter": "datum.v == 'X'"}], "mark": {"type": "line", "color": "#000000", "strokeWidth": 1, "clip": true},
         "encoding": {"x": {"field": "f", "type": "quantitative", "scale": {"type": "log", "domain": [200, 10000], "nice": false}, "axis": {"orient": "bottom", "values": [200,300,400,500,600,700,800,900,1000,2000,3000,4000,5000,6000,7000,8000,9000,10000], "grid": true, "gridColor": {"condition": {"test": "datum.value == 1000", "value": "#dedede"}, "value": "#c6c6c6"}, "gridDash": {"condition": {"test": "datum.value == 1000", "value": []}, "value": [1, 2]}, "tickSize": -6, "labels": false, "title": null}},
                      "y": {"field": "d", "type": "quantitative", "scale": {"domain": [-12, 2], "nice": false}, "axis": {"orient": "left", "values": [0,-3,-6,-9,-12], "grid": true, "gridColor": "#e2e2e2", "tickSize": -7, "labelPadding": 18, "labelExpr": "datum.value == 0 ? '0' : '-' + abs(datum.value)", "title": null}}}},
        {"data": {"name": "erb"}, "transform": [{"filter": "datum.v == 'X'"}], "mark": {"type": "line", "color": "#A3A43B", "strokeWidth": 3, "clip": true},
         "encoding": {"x": {"field": "f", "type": "quantitative", "axis": null}, "y": {"field": "d", "type": "quantitative", "axis": null}}},
        {"data": {"name": "erb"}, "transform": [{"filter": "datum.v == 'X'"}], "mark": {"type": "point", "shape": "circle", "filled": true, "size": 70, "color": "#A3A43B", "fillOpacity": 0.6, "stroke": "#A3A43B", "strokeWidth": 1.5, "opacity": 1, "clip": true},
         "encoding": {"x": {"field": "f", "type": "quantitative", "axis": null}, "y": {"field": "d", "type": "quantitative", "axis": null}}},
        {"data": {"values": [{"label": "Violin X"}]}, "mark": {"type": "text", "align": "left", "baseline": "alphabetic", "fontSize": 21.5, "font": "Liberation Sans", "color": "#111111"},
         "encoding": {"x": {"datum": 211.2, "type": "quantitative", "axis": {"orient": "top", "values": [200,300,400,500,600,700,800,900,1000,2000,3000,4000,5000,6000,7000,8000,9000,10000], "grid": false, "tickSize": -6, "labels": false, "title": null}},
                      "y": {"datum": -0.89, "type": "quantitative", "axis": {"orient": "right", "values": [0,-3,-6,-9,-12], "grid": false, "tickSize": -7, "labels": false, "title": null}},
                      "text": {"field": "label"}}}
      ],
      "resolve": {"axis": {"x": "independent", "y": "independent"}}
    },
    {
      "width": 990, "height": 134,
      "layer": [
        {"data": {"name": "erb"}, "mark": {"type": "line", "strokeWidth": 3, "clip": true},
         "encoding": {"x": {"field": "f", "type": "quantitative", "scale": {"type": "log", "domain": [200, 10000], "nice": false}, "axis": {"orient": "bottom", "values": [200,300,400,500,600,700,800,900,1000,2000,3000,4000,5000,6000,7000,8000,9000,10000], "grid": true, "gridColor": {"condition": {"test": "datum.value == 1000", "value": "#dedede"}, "value": "#c6c6c6"}, "gridDash": {"condition": {"test": "datum.value == 1000", "value": []}, "value": [1, 2]}, "tickSize": -6, "labels": true, "format": "d", "labelExpr": "indexof(['200','300','500','1000','2000','3000','5000','10000'], datum.label) >= 0 ? datum.label : ''", "labelPadding": 24, "title": "Frequency / Hz", "titlePadding": 4}},
                      "y": {"field": "d", "type": "quantitative", "scale": {"domain": [-12, 2], "nice": false}, "axis": {"orient": "left", "values": [0,-3,-6,-9,-12], "grid": true, "gridColor": "#e2e2e2", "tickSize": -7, "labelPadding": 18, "labelExpr": "datum.value == 0 ? '0' : '-' + abs(datum.value)", "title": null}},
                      "color": {"field": "v", "type": "nominal", "scale": {"domain": ["A","B","C","D","X"], "range": ["#F5766D","#27B47A","#35AEE5","#C07BBE","#A3A43B"]},
                                "legend": {"orient": "none", "legendX": 13.4, "legendY": 786, "title": null, "direction": "vertical", "symbolType": "M-2,0H2", "symbolSize": 144, "symbolStrokeWidth": 3.5, "symbolOffset": 8, "labelOffset": 10, "labelFontSize": 10, "labelFont": "Liberation Sans", "labelColor": "#111111", "padding": 1.5, "rowPadding": 0.5, "strokeColor": "#404040", "fillColor": "white", "cornerRadius": 0}}}},
        {"data": {"values": [{"label": "All Violins"}]}, "mark": {"type": "text", "align": "left", "baseline": "alphabetic", "fontSize": 21.5, "font": "Liberation Sans", "color": "#111111"},
         "encoding": {"x": {"datum": 270.8, "type": "quantitative", "axis": {"orient": "top", "values": [200,300,400,500,600,700,800,900,1000,2000,3000,4000,5000,6000,7000,8000,9000,10000], "grid": false, "tickSize": -6, "labels": false, "title": null}},
                      "y": {"datum": -0.93, "type": "quantitative", "axis": {"orient": "right", "values": [0,-3,-6,-9,-12], "grid": false, "tickSize": -7, "labels": false, "title": null}},
                      "text": {"field": "label"}}}
      ],
      "resolve": {"axis": {"x": "independent", "y": "independent"}}
    }
  ]
}
